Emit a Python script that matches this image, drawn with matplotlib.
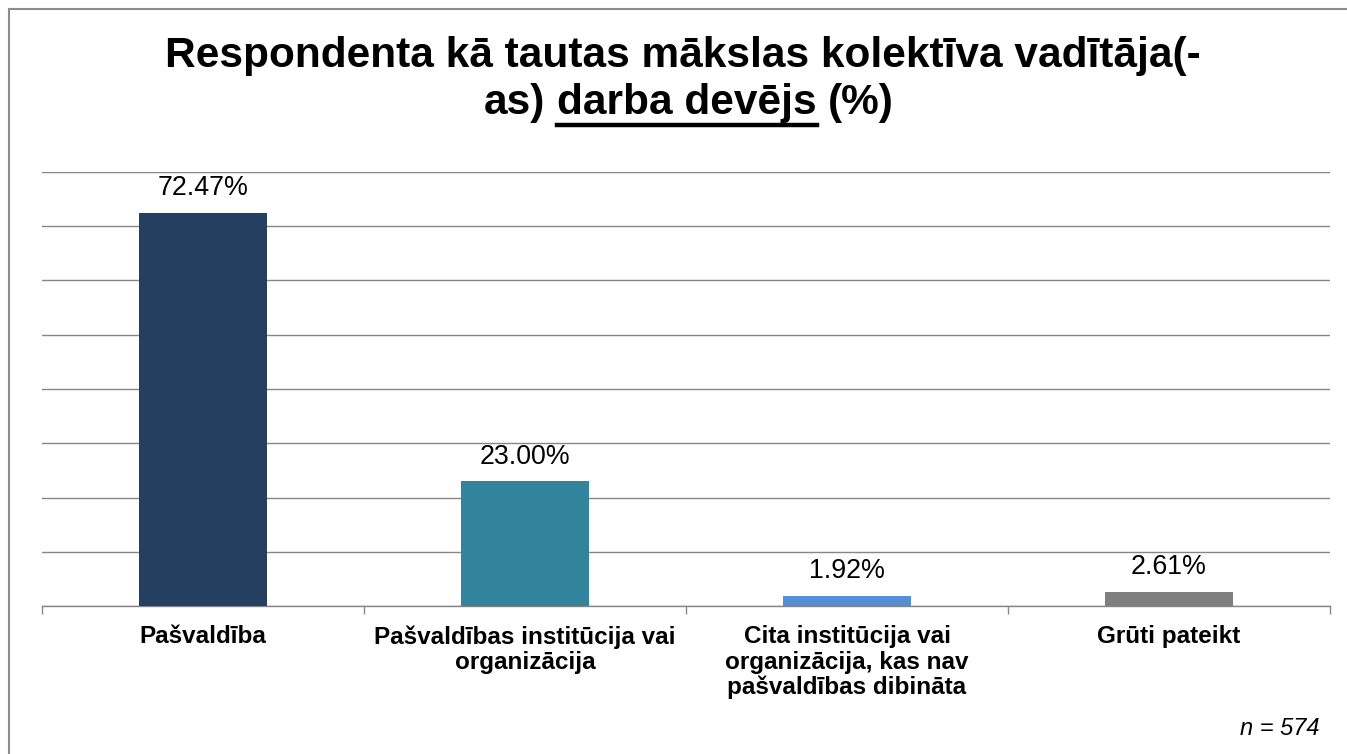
import numpy as np
import matplotlib
matplotlib.use("Agg")
import matplotlib.pyplot as plt
from matplotlib.lines import Line2D

plt.rcParams["font.family"] = ["Liberation Sans", "DejaVu Sans"]

categories = ["Pašvaldība",
              "Pašvaldības institūcija vai\norganizācija",
              "Cita institūcija vai\norganizācija, kas nav\npašvaldības dibināta",
              "Grūti pateikt"]
values = [72.47, 23.00, 1.92, 2.61]
bar_colors = ["#243F60", "#31849B", "#558ED5", "#7F7F7F"]
title_line1 = "Respondenta kā tautas mākslas kolektīva vadītāja(-"
title_parts2 = ["as)", "darba devējs", "(%)"]
note = "n = 574"

W, H, DPI = 1347, 754, 100
fig = plt.figure(figsize=(W / DPI, H / DPI), dpi=DPI)
ax = fig.add_axes([42 / W, 1 - 606 / H, (1330 - 42) / W, (606 - 172) / H])

x = np.arange(len(categories))
bars = ax.bar(x, values, width=0.4, color=bar_colors, zorder=3)
ax.set_xlim(-0.5, len(categories) - 0.5)
ax.set_ylim(0, 80)
ax.set_yticks(np.arange(0, 81, 10))
ax.yaxis.grid(True, color="#868686", linewidth=1.0, zorder=0)
ax.tick_params(axis="y", left=False, labelleft=False)
for s in ["left", "right", "top"]:
    ax.spines[s].set_visible(False)
ax.spines["bottom"].set_color("#868686")
ax.spines["bottom"].set_linewidth(1.0)

ax.set_xticks(x)
ax.set_xticklabels(categories, fontsize=17.5, fontweight="bold", linespacing=1.12)
ax.tick_params(axis="x", length=0, pad=14)
ax.set_xticks(np.arange(-0.5, len(categories)), minor=True)
ax.tick_params(axis="x", which="minor", length=6, color="#868686", width=1.0, direction="out")

for b, v in zip(bars, values):
    ax.annotate(f"{v:.2f}%", (b.get_x() + b.get_width() / 2, v), xytext=(0, 12.5),
                textcoords="offset points", ha="center", va="baseline", fontsize=19.3)

# title
tsize = 30.5
fig.text(683 / W, 1 - 67 / H, title_line1, ha="center", va="baseline",
         fontsize=tsize, fontweight="bold")

fig.canvas.draw()
r = fig.canvas.get_renderer()
em = tsize * DPI / 72
space = 0.278 * em
widths = []
for p in title_parts2:
    t = fig.text(0, 0, p, fontsize=tsize, fontweight="bold")
    widths.append(t.get_window_extent(r).width)
    t.remove()
total = sum(widths) + 2 * space
x0 = 689 - total / 2
base2 = H - 114
xpos = x0
for i, p in enumerate(title_parts2):
    fig.text(xpos / W, base2 / H, p, ha="left", va="baseline", fontsize=tsize, fontweight="bold")
    if i == 1:
        fig.add_artist(Line2D([xpos / W, (xpos + widths[i]) / W], [(base2 - 10.5) / H] * 2,
                              color="black", linewidth=3.2, transform=fig.transFigure))
    xpos += widths[i] + space

fig.text(1320 / W, 1 - 735 / H, note, ha="right", va="baseline", fontsize=17, style="italic")

# outer frame (top and left edges visible)
fig.add_artist(Line2D([9 / W, 1], [1 - 9 / H] * 2, color="#8C8C8C", linewidth=1.5,
                      transform=fig.transFigure))
fig.add_artist(Line2D([9 / W] * 2, [0, 1 - 9 / H], color="#8C8C8C", linewidth=1.5,
                      transform=fig.transFigure))

fig.savefig("out.png", dpi=DPI)
